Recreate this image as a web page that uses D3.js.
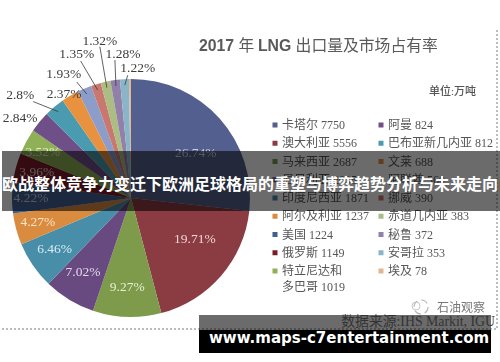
<!DOCTYPE html>
<html>
<head>
<meta charset="utf-8">
<script src="https://cdn.jsdelivr.net/npm/d3@7"></script>
<style>
  html, body { margin: 0; padding: 0; background: #fff; }
  svg { display: block; }
  text { font-family: "Liberation Serif", "Noto Sans CJK SC", serif; }
</style>
</head>
<body>
<div id="chart"></div>
<script>
// exporters, same order as the pie goes clockwise; legend fills col 1 then col 2
const countries = ['卡塔尔', '澳大利亚', '马来西亚', '尼日利亚', '印度尼西亚', '阿尔及利亚', '美国', '俄罗斯', '特立尼达和\n多巴哥',
  '阿曼', '巴布亚新几内亚', '文莱', '阿联酋', '挪威', '赤道几内亚', '秘鲁', '安哥拉', '埃及'];
const exports2017 = [7750, 5556, 2687, 2035, 1871, 1237, 1224, 1149, 1019, 824, 812, 688, 560, 390, 383, 372, 353, 78];
// printed as in the source, 19.71% included
const shareLabels = ['26.74%', '19.71%', '9.27%', '7.02%', '6.46%', '4.27%', '4.22%', '3.96%', '3.52%',
  '2.84%', '2.8%', '2.37%', '1.93%', '1.35%', '1.32%', '1.28%', '1.22%', ''];
const sliceColors = ['#525f8e', '#8b3a42', '#7e9a4c', '#674a80', '#4a8ea8', '#d98c40', '#3f5f92', '#7a1f26', '#8fb056',
  '#6e5088', '#4b9bb0', '#e8923f', '#8c9dca', '#c9786f', '#abbd82', '#9080aa', '#8ab5c9', '#e2b593'];
const insideTextColors = ['#c8cde0', '#f3d5d5', '#e6f0cf', '#e2d6ee', '#d5ecf4', '#fbe3c8', '#c8d4e8', '#e8c8c8', '#e4efc8'];

// layout only: nudges from the arc anchor points
const labelShift = [[3, 11], [1, -12], [-1, 7], [-5, 4], [-8, 5], [-13, 3], [-17, 1], [-14, -4], [-15, -6],
  [-24, -7], [-38, -16], [-9, -6], [-23, -19], [-21, -35], [-7, -46], [7, -31], [13, -16], [0, 0]];
const leaderShift = [null, null, null, null, null, null, null, null, null,
  null, [-25, -10], null, [-10, -12], [-17, -29], [-7, -41], [-1, -26], [3, -10], null];

const W = 500, H = 362;
const cx = 131, cy = 198, radius = 119;

const svg = d3.select('#chart').append('svg')
  .attr('width', W)
  .attr('height', H)
  .attr('viewBox', `0 0 ${W} ${H}`);

svg.append('defs').append('filter')
  .attr('id', 'soft')
  .append('feGaussianBlur')
  .attr('stdDeviation', 0.5);

const base = svg.append('g').attr('filter', 'url(#soft)');

// dotted frame of the pasted picture
base.append('path')
  .attr('d', `M497,30V329H0`)
  .attr('fill', 'none')
  .attr('stroke', '#a8a8a8')
  .attr('stroke-width', 1.5)
  .attr('stroke-dasharray', '2,2');

const color = d3.scaleOrdinal().domain(countries).range(sliceColors);

const rows = countries.map((name, i) => ({
  name, tons: exports2017[i], label: shareLabels[i], index: i,
}));

const pie = d3.pie().sort(null).value(d => d.tons);
const arc = d3.arc().innerRadius(0).outerRadius(radius);
const insideArc = d3.arc().innerRadius(83).outerRadius(83);
const edgeArc = d3.arc().innerRadius(113).outerRadius(113);
const arcData = pie(rows);

const g = base.append('g').attr('transform', `translate(${cx},${cy})`);

g.selectAll('.slice')
  .data(arcData)
  .join('path')
  .attr('class', 'slice')
  .attr('d', arc)
  .attr('fill', d => color(d.data.name));

const inner = 9;

g.selectAll('.leader')
  .data(arcData.filter(d => leaderShift[d.data.index]))
  .join('line')
  .attr('class', 'leader')
  .attr('x1', d => edgeArc.centroid(d)[0])
  .attr('y1', d => edgeArc.centroid(d)[1])
  .attr('x2', d => edgeArc.centroid(d)[0] + leaderShift[d.data.index][0])
  .attr('y2', d => edgeArc.centroid(d)[1] + leaderShift[d.data.index][1])
  .attr('stroke', '#3a3a3a')
  .attr('stroke-width', 0.8);

g.selectAll('.share')
  .data(arcData.filter(d => d.data.label))
  .join('text')
  .attr('class', 'share')
  .attr('x', d => (d.data.index < inner ? insideArc : edgeArc).centroid(d)[0] + labelShift[d.data.index][0])
  .attr('y', d => (d.data.index < inner ? insideArc : edgeArc).centroid(d)[1] + labelShift[d.data.index][1])
  .attr('text-anchor', 'middle')
  .attr('dominant-baseline', 'middle')
  .attr('font-size', 13.5)
  .attr('fill', d => (d.data.index < inner ? insideTextColors[d.data.index] : '#3c3c3c'))
  .text(d => d.data.label);

// title
const title = base.append('text')
  .attr('x', 199)
  .attr('y', 51)
  .attr('font-size', 15.8)
  .attr('fill', '#5a5a5a');
title.append('tspan').attr('font-family', 'Liberation Sans').attr('font-weight', 700).text('2017 ');
title.append('tspan').attr('font-family', 'Noto Sans CJK SC').text('年 ');
title.append('tspan').attr('font-family', 'Liberation Sans').attr('font-weight', 700).text('LNG ');
title.append('tspan').attr('font-family', 'Noto Sans CJK SC').text('出口量及市场占有率');

base.append('text')
  .attr('x', 476)
  .attr('y', 95)
  .attr('text-anchor', 'end')
  .attr('font-size', 11)
  .attr('font-weight', 500)
  .attr('fill', '#555')
  .text('单位:万吨');

// legend
const rowY = d3.scaleLinear().domain([0, 8]).range([125, 271]);
const colX = [275, 381];

const legend = base.selectAll('.legend-row')
  .data(rows)
  .join('g')
  .attr('class', 'legend-row')
  .attr('transform', d => `translate(${colX[d.index < 9 ? 0 : 1]},${rowY(d.index < 9 ? d.index : d.index - 9)})`);

legend.append('rect')
  .attr('x', -2.5)
  .attr('y', -2.5)
  .attr('width', 5)
  .attr('height', 5)
  .attr('fill', d => color(d.name));

legend.each(function (d) {
  const lines = d.name.split('\n');
  const t = d3.select(this).append('text')
    .attr('x', 7)
    .attr('y', 4)
    .attr('font-size', 12)
    .attr('fill', '#565656');
  lines.forEach((line, i) => {
    const last = i === lines.length - 1;
    t.append('tspan')
      .attr('x', 7)
      .attr('dy', i ? 16 : 0)
      .text(last ? `${line} ${d.tons}` : line);
  });
});

// watermark
const mark = base.append('g').attr('transform', 'translate(421,307)');
mark.append('circle')
  .attr('r', 7)
  .attr('fill', 'none')
  .attr('stroke', '#b5b5b5')
  .attr('stroke-width', 1.2)
  .attr('stroke-dasharray', '7,4');
mark.append('circle')
  .attr('cx', -5)
  .attr('cy', -1)
  .attr('r', 4)
  .attr('fill', 'none')
  .attr('stroke', '#c8c8c8')
  .attr('stroke-width', 1);
base.append('text')
  .attr('x', 437)
  .attr('y', 312)
  .attr('font-size', 12)
  .attr('fill', '#777')
  .text('石油观察');

// overlays from the repost
svg.append('rect')
  .attr('x', 2)
  .attr('y', 151)
  .attr('width', 498)
  .attr('height', 60)
  .attr('fill', '#000')
  .attr('opacity', 0.58);

svg.append('text')
  .attr('x', 250)
  .attr('y', 186)
  .attr('text-anchor', 'middle')
  .attr('dominant-baseline', 'middle')
  .attr('font-size', 16)
  .attr('font-weight', 700)
  .attr('fill', '#fff')
  .style('font-family', '"Noto Sans CJK SC"')
  .text('欧战整体竞争力变迁下欧洲足球格局的重塑与博弈趋势分析与未来走向');

svg.append('rect')
  .attr('x', 199)
  .attr('y', 315)
  .attr('width', 292)
  .attr('height', 15)
  .attr('fill', '#000')
  .attr('opacity', 0.58);
svg.append('rect')
  .attr('x', 199)
  .attr('y', 330)
  .attr('width', 292)
  .attr('height', 23)
  .attr('fill', '#000');

svg.append('text')
  .attr('x', 495)
  .attr('y', 326)
  .attr('text-anchor', 'end')
  .attr('font-size', 13.8)
  .attr('fill', '#333')
  .text('数据来源:IHS Markit, IGU');

svg.append('text')
  .attr('x', 209)
  .attr('y', 343)
  .attr('font-size', 15)
  .attr('font-weight', 700)
  .attr('fill', '#fff')
  .style('font-family', '"DejaVu Sans"')
  .text('www.maps-c7entertainment.com');
</script>
</body>
</html>
